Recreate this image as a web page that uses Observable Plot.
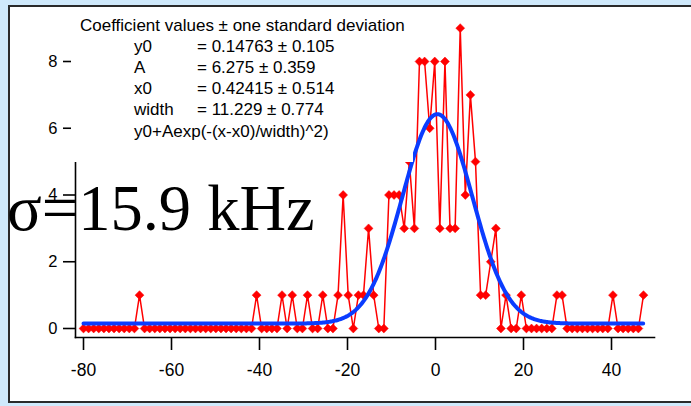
<!DOCTYPE html>
<html><head><meta charset="utf-8">
<script src="https://cdn.jsdelivr.net/npm/d3@7"></script>
<script src="https://cdn.jsdelivr.net/npm/@observablehq/plot@0.6"></script>
<style>
html,body{margin:0;padding:0;background:#cfe9fb;width:691px;height:406px;overflow:hidden;position:relative;}
#panel{position:absolute;left:8px;top:5px;width:700px;height:398px;background:#fff;border:2px solid #2a2a2a;border-right:none;box-sizing:border-box;}
#chart{position:absolute;left:0;top:0;width:691px;height:406px;}
#coef{position:absolute;left:71px;top:8px;width:342px;height:154px;background:#fff;font-family:"Liberation Sans",Arial,sans-serif;font-size:17px;color:#000;}
#coef div{position:absolute;white-space:nowrap;line-height:1;}
#sigma{position:absolute;left:7px;top:177px;font-family:"Liberation Serif","Times New Roman",serif;font-size:64.5px;line-height:1;color:#000;white-space:nowrap;}
</style></head>
<body>
<div id="panel"></div>
<div id="chart"></div>
<div id="coef"></div>
<div id="sigma"></div>
<script>
// Frequency offset (kHz) of each bin
const freqs = [-80.00,-78.84,-77.69,-76.53,-75.37,-74.22,-73.06,-71.90,-70.74,-69.59,
 -68.43,-67.27,-66.12,-64.96,-63.80,-62.65,-61.49,-60.33,-59.17,-58.02,
 -56.86,-55.70,-54.55,-53.39,-52.23,-51.08,-49.92,-48.76,-47.60,-46.45,
 -45.29,-44.13,-42.98,-41.82,-40.66,-39.51,-38.35,-37.19,-36.03,-34.88,
 -33.72,-32.56,-31.41,-30.25,-29.09,-27.94,-26.78,-25.62,-24.46,-23.31,
 -22.15,-20.99,-19.84,-18.68,-17.52,-16.37,-15.21,-14.05,-12.89,-11.74,
 -10.58,-9.42,-8.27,-7.11,-5.95,-4.80,-3.64,-2.48,-1.32,-0.17,
 0.99,2.15,3.30,4.46,5.62,6.78,7.93,9.09,10.25,11.40,
 12.56,13.72,14.87,16.03,17.19,18.35,19.50,20.66,21.82,22.97,
 24.13,25.29,26.44,27.60,28.76,29.92,31.07,32.23,33.39,34.54,
 35.70,36.86,38.01,39.17,40.33,41.49,42.64,43.80,44.96,46.11,
 47.27];
// Counts per bin
const counts = [0,0,0,0,0,0,0,0,0,0,
 0,1,0,0,0,0,0,0,0,0,
 0,0,0,0,0,0,0,0,0,0,
 0,0,0,0,1,0,0,0,0,1,
 0,1,0,0,1,0,0,1,0,0,
 1,4,1,0,1,1,3,1,0,0,
 4,4,4,3,5,3,8,8,6,8,
 3,8,3,3,9,4,7,5,1,1,
 2,3,0,1,0,0,1,0,0,0,
 0,0,0,1,1,0,0,0,0,0,
 0,0,0,0,1,0,0,0,0,0,
 1];
// Gaussian fit coefficients (y0 + A*exp(-((x-x0)/width)^2))
const fitY0 = 0.14763, fitA = 6.275, fitX0 = 0.42415, fitWidth = 11.229;
const xTicks = [-80,-60,-40,-20,0,20,40];
const yTicks = [0,2,4,6,8];
const coefTitle = "Coefficient values \u00b1 one standard deviation";
const coefNames = ["y0","A","x0","width"];
const coefValues = ["= 0.14763 \u00b1 0.105","= 6.275 \u00b1 0.359","= 0.42415 \u00b1 0.514","= 11.229 \u00b1 0.774"];
const fitFormula = "y0+Aexp(-(x-x0)/width)^2)";
const sigmaLabel = "\u03c3=15.9 kHz";

const data = freqs.map((f,i)=>({f, c: counts[i]}));
const fit = d3.range(freqs[0], freqs[freqs.length-1] + 0.001, 0.2).map(x => ({x, y: fitY0 + fitA*Math.exp(-Math.pow((x-fitX0)/fitWidth,2))}));

const plot = Plot.plot({
  width: 691, height: 406,
  marginLeft: 75, marginRight: 37, marginTop: 10, marginBottom: 69,
  style: {background: "transparent", fontFamily: "'Liberation Sans', Arial, sans-serif", color: "#000", overflow: "visible"},
  x: {domain: [-80, 40], range: [83, 611]},
  y: {domain: [0, 8], range: [328, 61]},
  marks: [
    Plot.frame({anchor: "left", stroke: "#000", strokeWidth: 1.6}),
    Plot.frame({anchor: "bottom", stroke: "#000", strokeWidth: 1.6}),
    Plot.axisX({ticks: xTicks, tickSize: 13, tickPadding: 13, fontSize: 17.5, strokeWidth: 1.6, label: null}),
    Plot.axisY({ticks: yTicks, tickSize: 12, tickPadding: 6, fontSize: 16.5, strokeWidth: 1.6, label: null}),
    Plot.line(data, {x: "f", y: "c", stroke: "#ff0000", strokeWidth: 1.5}),
    Plot.dot(data, {x: "f", y: "c", symbol: "diamond2", r: 4, fill: "#ff0000", stroke: "#ff0000", strokeWidth: 0.5}),
    Plot.line(fit, {x: "x", y: "y", stroke: "#0a3cff", strokeWidth: 4, curve: "linear"})
  ]
});
// use plain hyphen for negative tick labels, as in the reference
d3.select(plot).selectAll("text").each(function(){ this.textContent = this.textContent.replace(/\u2212/g, "-"); });
document.getElementById("chart").appendChild(plot);

const coef = document.getElementById("coef");
function addLine(txt, left, top){ const d = document.createElement("div"); d.textContent = txt; d.style.left = left+"px"; d.style.top = top+"px"; coef.appendChild(d); }
const lineTops = [8.5, 29.5, 50.5, 72, 93, 114.5];
addLine(coefTitle, 9, lineTops[0]);
coefNames.forEach((n,i)=>{ addLine(n, 63, lineTops[i+1]); addLine(coefValues[i], 126, lineTops[i+1]); });
addLine(fitFormula, 63, lineTops[5]);
document.getElementById("sigma").textContent = sigmaLabel;
</script>
</body></html>
